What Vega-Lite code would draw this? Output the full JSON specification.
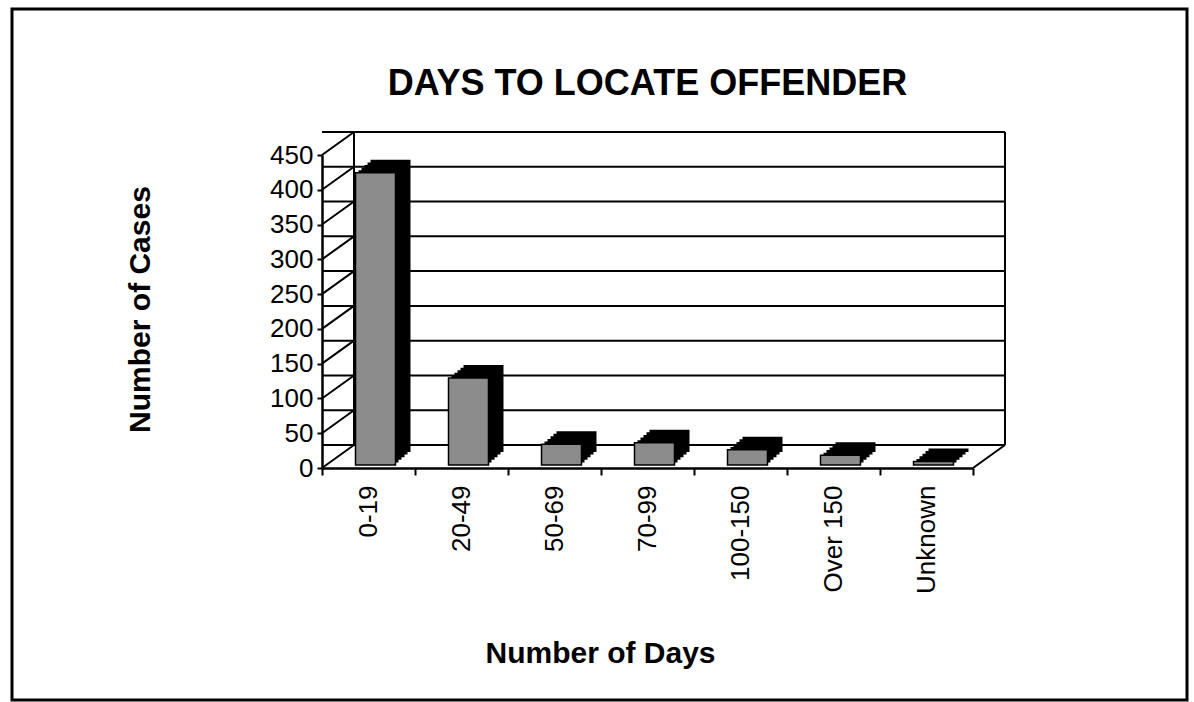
{
  "$schema": "https://vega.github.io/schema/vega-lite/v6.json",
  "autosize": {"type": "none"},
  "width": 651,
  "height": 313,
  "padding": {"left": 322, "top": 155, "right": 221, "bottom": 234},
  "background": "white",
  "config": {
    "font": "Liberation Sans",
    "view": {"stroke": null},
    "axis": {"labelColor": "black", "titleColor": "black", "domainColor": "black", "tickColor": "black"},
    "axisY": {"tickCount": 10, "labelOverlap": false}
  },
  "title": {
    "text": "DAYS TO LOCATE OFFENDER",
    "fontSize": 36,
    "fontWeight": "bold",
    "color": "black",
    "frame": "group",
    "anchor": "middle",
    "baseline": "alphabetic",
    "offset": -123
  },
  "datasets": {
    "cases": [
      {"range": "0-19", "cases": 420},
      {"range": "20-49", "cases": 125},
      {"range": "50-69", "cases": 30},
      {"range": "70-99", "cases": 32},
      {"range": "100-150", "cases": 22},
      {"range": "Over 150", "cases": 14},
      {"range": "Unknown", "cases": 5}
    ],
    "grid": [
      {"v": 0}, {"v": 50}, {"v": 100}, {"v": 150}, {"v": 200},
      {"v": 250}, {"v": 300}, {"v": 350}, {"v": 400}, {"v": 450}
    ]
  },
  "layer": [
    {
      "data": {"values": [{"frame": 1}]},
      "mark": {"type": "rect", "fill": null, "stroke": "black", "strokeWidth": 3,
               "xOffset": -310, "x2Offset": 214, "yOffset": -146, "y2Offset": 232},
      "encoding": {
        "x": {"datum": "0-19", "type": "nominal", "bandPosition": 0,
              "scale": {"domain": ["0-19", "20-49", "50-69", "70-99", "100-150", "Over 150", "Unknown"], "paddingInner": 0, "paddingOuter": 0},
              "axis": {
                "title": "Number of Days",
                "titleFontSize": 30, "titleFontWeight": "bold",
                "titleX": 278, "titleY": 194, "titleBaseline": "alphabetic", "titleAlign": "center",
                "labelAngle": -90, "labelFontSize": 26, "labelPadding": 10,
                "tickSize": 7, "tickWidth": 2, "tickBand": "extent",
                "domainWidth": 2.5
              }},
        "x2": {"datum": "Unknown", "bandPosition": 1},
        "y": {"datum": 450, "type": "quantitative", "scale": {"domain": [0, 450], "nice": false},
              "axis": {
                "title": "Number of Cases",
                "titleFontSize": 30, "titleFontWeight": "bold",
                "titleX": -182, "titleY": 154, "titleAngle": -90,
                "titleAlign": "center", "titleBaseline": "middle",
                "values": [0, 50, 100, 150, 200, 250, 300, 350, 400, 450],
                "tickCount": 10,
                "labelFontSize": 26, "labelPadding": 4,
                "labelOverlap": false, "labelFlush": false, "labelBound": false,
                "tickSize": 5, "tickWidth": 2,
                "domainWidth": 2.5, "grid": false
              }},
        "y2": {"datum": 0}
      }
    },
    {
      "data": {"name": "grid"},
      "mark": {"type": "rule", "color": "black", "strokeWidth": 2, "xOffset": 32, "x2Offset": 32, "yOffset": -23, "y2Offset": -23},
      "encoding": {
        "y": {"field": "v", "type": "quantitative"}
      }
    },
    {
      "data": {"name": "grid"},
      "mark": {"type": "rule", "color": "black", "strokeWidth": 2, "x2Offset": 32, "y2Offset": -23},
      "encoding": {
        "x": {"datum": "0-19", "type": "nominal", "bandPosition": 0},
        "x2": {"datum": "0-19", "bandPosition": 0},
        "y": {"field": "v", "type": "quantitative"},
        "y2": {"field": "v"}
      }
    },
    {
      "data": {"values": [{"edge": "left"}]},
      "mark": {"type": "rule", "color": "black", "strokeWidth": 2, "xOffset": 32, "x2Offset": 32, "yOffset": -23, "y2Offset": -23},
      "encoding": {
        "x": {"datum": "0-19", "type": "nominal", "bandPosition": 0},
        "y": {"datum": 0, "type": "quantitative"},
        "y2": {"datum": 450}
      }
    },
    {
      "data": {"values": [{"edge": "right"}]},
      "mark": {"type": "rule", "color": "black", "strokeWidth": 2, "xOffset": 32, "x2Offset": 32, "yOffset": -23, "y2Offset": -23},
      "encoding": {
        "x": {"datum": "Unknown", "type": "nominal", "bandPosition": 1},
        "y": {"datum": 0, "type": "quantitative"},
        "y2": {"datum": 450}
      }
    },
    {
      "data": {"values": [{"edge": "floor"}]},
      "mark": {"type": "rule", "color": "black", "strokeWidth": 2, "x2Offset": 32, "y2Offset": -23},
      "encoding": {
        "x": {"datum": "Unknown", "type": "nominal", "bandPosition": 1},
        "x2": {"datum": "Unknown", "bandPosition": 1},
        "y": {"datum": 0, "type": "quantitative"},
        "y2": {"datum": 0}
      }
    },
    {
      "data": {"name": "cases"},
      "mark": {"type": "bar", "fill": "black", "width": {"band": 0.43}, "xOffset": 22, "x2Offset": 22, "yOffset": -16, "y2Offset": -16},
      "encoding": {
        "x": {"field": "range", "type": "nominal", "sort": null},
        "y": {"field": "cases", "type": "quantitative"}
      }
    },
    {
      "data": {"name": "cases"},
      "mark": {"type": "bar", "fill": "black", "width": {"band": 0.43}, "xOffset": 19, "x2Offset": 19, "yOffset": -13.4, "y2Offset": -13.4},
      "encoding": {
        "x": {"field": "range", "type": "nominal", "sort": null},
        "y": {"field": "cases", "type": "quantitative"}
      }
    },
    {
      "data": {"name": "cases"},
      "mark": {"type": "bar", "fill": "black", "width": {"band": 0.43}, "xOffset": 16, "x2Offset": 16, "yOffset": -10.8, "y2Offset": -10.8},
      "encoding": {
        "x": {"field": "range", "type": "nominal", "sort": null},
        "y": {"field": "cases", "type": "quantitative"}
      }
    },
    {
      "data": {"name": "cases"},
      "mark": {"type": "bar", "fill": "black", "width": {"band": 0.43}, "xOffset": 13, "x2Offset": 13, "yOffset": -8.2, "y2Offset": -8.2},
      "encoding": {
        "x": {"field": "range", "type": "nominal", "sort": null},
        "y": {"field": "cases", "type": "quantitative"}
      }
    },
    {
      "data": {"name": "cases"},
      "mark": {"type": "bar", "fill": "black", "width": {"band": 0.43}, "xOffset": 10, "x2Offset": 10, "yOffset": -5.6, "y2Offset": -5.6},
      "encoding": {
        "x": {"field": "range", "type": "nominal", "sort": null},
        "y": {"field": "cases", "type": "quantitative"}
      }
    },
    {
      "data": {"name": "cases"},
      "mark": {"type": "bar", "fill": "#8c8c8c", "stroke": "black", "strokeWidth": 1.5, "width": {"band": 0.43}, "xOffset": 7, "x2Offset": 7, "yOffset": -3, "y2Offset": -3},
      "encoding": {
        "x": {"field": "range", "type": "nominal", "sort": null},
        "y": {"field": "cases", "type": "quantitative"}
      }
    }
  ]
}
